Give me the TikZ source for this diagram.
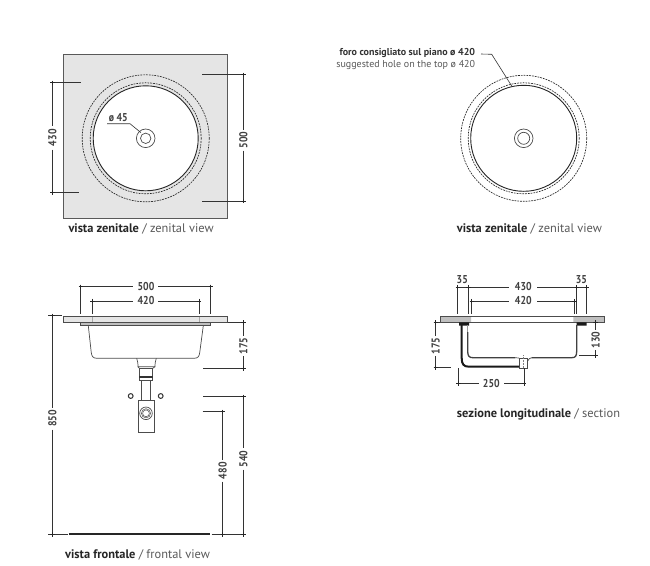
\documentclass[tikz,border=0pt]{standalone}
\usepackage{fontspec}
\setmainfont{PT Sans}
\newfontfamily\dimf[FakeStretch=0.86]{PT Sans Bold}
\begin{document}
\begin{tikzpicture}[x=1pt,y=-1pt,
  dimline/.style={line width=0.6pt,draw=black!80},
  dimtext/.style={font=\dimf\fontsize{11.4}{12}\selectfont,text=black!75,inner sep=0pt},
  rotdim/.style={dimtext,rotate=90},
  caption/.style={font=\fontsize{12.4}{14}\selectfont,text=black!85,inner sep=0pt},
  slabline/.style={draw=black!70,line width=0.7pt},
  dashc/.style={draw=black!85,line width=0.65pt,dash pattern=on 1.8pt off 1pt},
  solidc/.style={draw=black!85,line width=0.9pt},
  part/.style={draw=black!70,line width=0.7pt}]
\useasboundingbox (0,0) rectangle (650,565);
\fill[white] (0,0) rectangle (650,565);
\newcommand{\tk}[2]{\draw[black!85,line width=0.6pt] (#1-2.2,#2)--(#1+2.2,#2) (#1,#2-2.2)--(#1,#2+2.2);}
% --- top-left
\draw[fill=black!10,draw=black!65,line width=0.8pt] (63.7,54.7) rectangle (227,218);
\coordinate (cA) at (145.7,138.3);
\draw[dashc] (cA) circle (63.5);
\fill[white] (cA) circle (52.5);
\draw[dashc] (cA) circle (55.5);
\draw[solidc] (cA) circle (52.5);
\draw[part] (cA) circle (9.3);
\draw[part] (cA) circle (5.2);
\node[dimtext] (d45) at (118.3,117.8) {ø 45};
\draw[dimline] (107,123.7)--(130,123.7)--(141,132.7);
\node[rotdim] (d430a) at (52.3,137.7) {430};
\draw[dimline] (50,82.7)--(80.7,82.7) (50,192.3)--(79,192.3);
\draw[dimline] (52.3,82.7)--(52.3,125.5) (52.3,149.5)--(52.3,192.3);
\node[rotdim] (d500a) at (243.3,140) {500};
\draw[dimline] (202.3,74.7)--(245.6,74.7) (202.3,201)--(245.6,201);
\draw[dimline] (243.3,74.7)--(243.3,129.5) (243.3,150.5)--(243.3,201);
\tk{52.3}{82.7}\tk{52.3}{192.3}\tk{243.3}{74.7}\tk{243.3}{201}
\node[caption,anchor=west] (capA) at (68.3,229) {\textbf{vista zenitale} \textcolor{black!65}{/ zenital view}};
% --- top-right
\coordinate (cB) at (523.7,138.3);
\draw[dashc] (cB) circle (63);
\draw[dashc] (cB) circle (55.5);
\draw[solidc] (cB) circle (53);
\draw[part] (cB) circle (9.3);
\draw[part] (cB) circle (6);
\node[anchor=east,inner sep=0pt,font=\fontsize{10}{11}\selectfont\bfseries,text=black!80] (holeA) at (475.3,53) {foro consigliato sul piano ø 420};
\node[anchor=east,inner sep=0pt,font=\fontsize{10}{11}\selectfont,text=black!65] (holeB) at (475.3,65) {suggested hole on the top ø 420};
\draw[dimline] (481,54)--(491.7,54.3)--(511.7,86);
\node[caption,anchor=west] (capB) at (456.7,229) {\textbf{vista zenitale} \textcolor{black!65}{/ zenital view}};
% --- front view
\draw[slabline,fill=black!10] (63.3,316.7) rectangle (227.7,322.3);
\draw[part,fill=black!25] (80.7,322.3) rectangle (210.7,325.7);
\draw[part] (88.3,325.7)--(91.2,352) .. controls (91.7,356.5) and (93,358.3) .. (97,358.3)--(194,358.3) .. controls (198,358.3) and (199.3,356.5) .. (199.8,352)--(203.3,325.7);
\draw[part] (136.7,358.3) .. controls (137.3,361) and (138,362) .. (138,366.7)--(155,366.7) .. controls (155,362) and (155.7,361) .. (156.3,358.3);
\draw[part,fill=white] (139.3,368.3) rectangle (152.7,380);
\fill[black!80] (139.3,376.3) rectangle (152.7,378.3);
\draw[part] (138,366.7)--(139.3,368.3) (155,366.7)--(152.7,368.3);
\draw[part] (141.7,380)--(141.7,400) (150,380)--(150,400);
\draw[part,fill=white] (138,400) rectangle (154.7,432.3);
\draw[part] (146,413.3) circle (6.3);
\draw[part,line width=0.5pt] (146,413.3) circle (4.6);
\draw[part,line width=0.5pt] (146,413.3) circle (3.4);
\draw[black!80,line width=1pt] (130.7,396) circle (2.4);
\draw[black!80,line width=1pt] (160.7,396) circle (2.4);
% dims front
\node[dimtext] (f500) at (146,286.7) {500};
\draw[dimline] (80.7,286.7)--(133.3,286.7) (158.3,286.7)--(210.7,286.7);
\draw[dimline] (80.7,284.5)--(80.7,314) (210.7,284.5)--(210.7,314);
\node[dimtext] (f420) at (146,301) {420};
\draw[dimline] (92.3,301)--(133.3,301) (158.3,301)--(199,301);
\draw[dimline] (92.3,298.8)--(92.3,314) (199,298.8)--(199,314);
\draw[black!35,line width=0.5pt] (92.3,316.7)--(92.3,322) (199,316.7)--(199,322);
\tk{80.7}{286.7}\tk{210.7}{286.7}\tk{92.3}{301}\tk{199}{301}
\node[rotdim] (f850) at (52.3,418.3) {850};
\draw[dimline] (48.3,315.7)--(62,315.7);
\draw[dimline] (52.3,315.7)--(52.3,407.5) (52.3,429.5)--(52.3,534.3);
\draw[dimline] (48.3,534.3)--(67.7,534.3);
\draw[black!85,line width=2pt] (69.3,534.3)--(210,534.3);
\draw[dimline] (211.7,534.3)--(245.7,534.3);
\tk{52.3}{315.7}\tk{52.3}{534.3}
\node[rotdim] (f175) at (243.3,346) {175};
\draw[dimline] (227.7,322.3)--(245.7,322.3) (203.3,368.3)--(245.7,368.3);
\draw[dimline] (243.3,322.3)--(243.3,336) (243.3,356)--(243.3,368.3);
\tk{243.3}{322.3}\tk{243.3}{368.3}
\node[rotdim] (f540) at (243.3,459) {540};
\draw[dimline] (203.3,396.7)--(245.7,396.7);
\draw[dimline] (243.3,396.7)--(243.3,448) (243.3,469.5)--(243.3,534.3);
\tk{243.3}{396.7}\tk{243.3}{534.3}
\node[rotdim] (f480) at (222.7,470.7) {480};
\draw[dimline] (202.7,411.7)--(225,411.7);
\draw[dimline] (222.7,411.7)--(222.7,460) (222.7,481.5)--(222.7,534.3);
\tk{222.7}{411.7}\tk{222.7}{534.3}
\node[caption,anchor=west] (capC) at (65,555.3) {\textbf{vista frontale} \textcolor{black!65}{/ frontal view}};
% --- section
\fill[black!25] (440,316.7) rectangle (471,322.3) (573.3,316.7) rectangle (604,322.3);
\draw[slabline] (440,316.7) rectangle (604,322.3);
\fill[black!90] (459,322.3) rectangle (469,325.7) (576.7,322.3) rectangle (586.7,325.7);
\draw[black!90,line width=2pt] (461.7,325)--(461.7,358) .. controls (461.7,364) and (463.5,366.7) .. (469,366.7)--(519,366.7);
\draw[black!75,line width=1.3pt] (467.7,332)--(467.7,351) .. controls (467.7,356) and (469,357.7) .. (473,357.7)--(515,357.7);
\draw[black!40,line width=1.3pt] (467.7,325)--(467.7,332);
\draw[part] (515,357.7)--(519,358);
\draw[black!75,line width=1.3pt] (531.7,357.7)--(571.7,357.7) .. controls (575.5,357.7) and (576.7,356) .. (576.7,351)--(576.7,325);
\draw[part] (519,358) rectangle (527.3,368.3);
\draw[part] (527.3,361.5) .. controls (528.5,359) and (530,357.7) .. (531.7,357.7);
\draw[black!50,line width=0.5pt,densely dotted] (523.2,355)--(523.2,368);
\node[dimtext] (s35a) at (462.3,279.3) {35};
\node[dimtext] (s35b) at (581.3,279.3) {35};
\node[dimtext] (s430) at (523.3,287) {430};
\node[dimtext] (s420) at (523.3,301) {420};
\draw[dimline] (457.7,287)--(509.3,287) (537.3,287)--(586.7,287);
\draw[dimline] (471.7,301)--(509.3,301) (537.3,301)--(574.3,301);
\draw[dimline] (457.7,285)--(457.7,314) (468.3,285)--(468.3,314) (576.7,285)--(576.7,314) (586.7,285)--(586.7,314);
\draw[dimline] (471.7,299)--(471.7,314) (574.3,299)--(574.3,314);
\tk{457.7}{287}\tk{468.3}{287}\tk{576.7}{287}\tk{586.7}{287}\tk{471.7}{301}\tk{574.3}{301}
\node[rotdim] (s175) at (435.7,346) {175};
\draw[dimline] (433.5,322.3)--(440,322.3) (433.5,367.7)--(450.7,367.7);
\draw[dimline] (435.7,322.3)--(435.7,336) (435.7,356)--(435.7,367.7);
\tk{435.7}{322.3}\tk{435.7}{367.7}
\node[rotdim] (s130) at (595.7,340) {130};
\draw[dimline] (593,322.3)--(598,322.3) (579.3,355.7)--(598,355.7);
\draw[dimline] (595.7,322.3)--(595.7,330) (595.7,350)--(595.7,355.7);
\tk{595.7}{322.3}\tk{595.7}{355.7}
\node[dimtext] (s250) at (491.3,383.3) {250};
\draw[dimline] (458.3,383.3)--(479.3,383.3) (504,383.3)--(524,383.3);
\draw[dimline] (458.3,368)--(458.3,385.5) (524,368)--(524,385.5);
\tk{458.3}{383.3}\tk{524}{383.3}
\node[caption,anchor=west] (capD) at (456.7,414) {\textbf{sezione longitudinale} \textcolor{black!65}{/ section}};
\end{tikzpicture}
\end{document}
